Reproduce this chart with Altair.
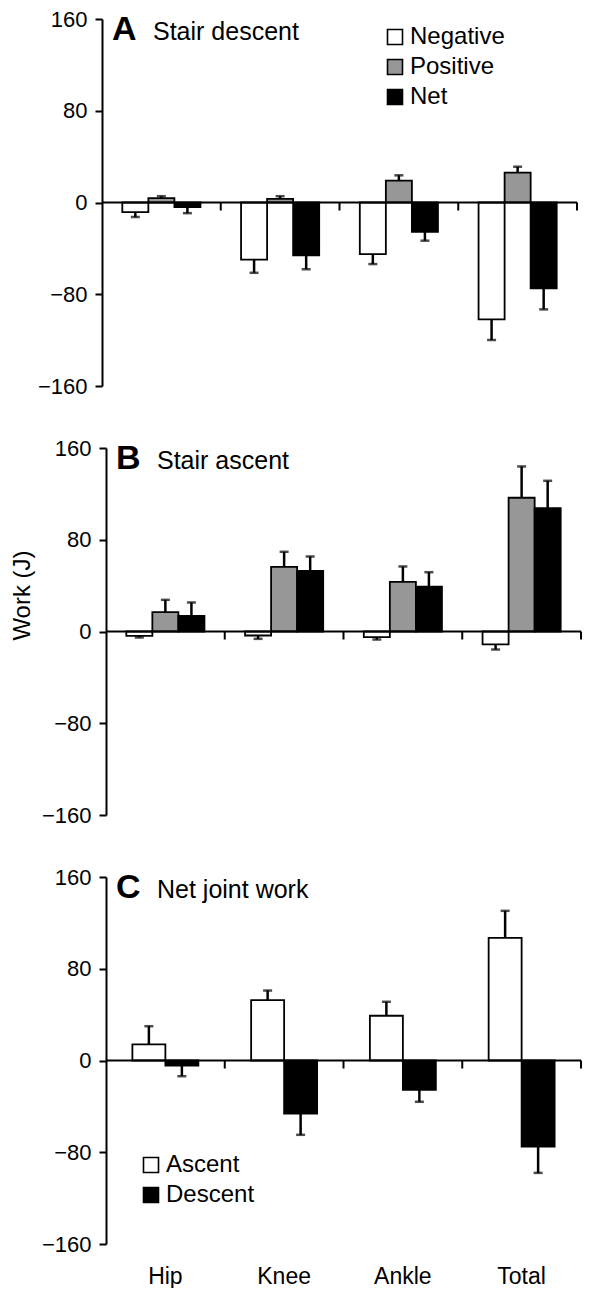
import altair as alt
import pandas as pd

joints = ["Hip", "Knee", "Ankle", "Total"]
work_types = ["Negative", "Positive", "Net"]
conditions = ["Ascent", "Descent"]

# Panel A: stair descent
descent_negative = [-8.4, -49.8, -45.0, -101.9]
descent_negative_err = [4.3, 11.5, 8.7, 18.0]
descent_positive = [3.8, 3.2, 19.1, 26.0]
descent_positive_err = [1.7, 2.3, 4.6, 5.2]
descent_net = [-4.0, -46.0, -25.5, -74.9]
descent_net_err = [5.3, 12.2, 7.8, 18.3]

# Panel B: stair ascent
ascent_negative = [-3.8, -3.5, -4.9, -11.3]
ascent_negative_err = [1.4, 2.9, 2.1, 4.4]
ascent_positive = [16.9, 56.4, 43.3, 116.6]
ascent_positive_err = [10.7, 13.1, 13.4, 27.3]
ascent_net = [13.7, 52.9, 39.0, 107.6]
ascent_net_err = [11.6, 12.5, 12.7, 23.8]

# Panel C: net joint work
net_ascent = [14.0, 52.6, 39.0, 107.0]
net_ascent_err = [15.9, 8.4, 12.2, 23.5]
net_descent = [-4.4, -46.2, -25.6, -75.0]
net_descent_err = [9.3, 18.6, 10.4, 23.0]

y_ticks = [-160, -80, 0, 80, 160]

FONT = "Liberation Sans"
W, H = 475, 367


def make_df(series_names, values, errs):
    rows = []
    for s, vals, es in zip(series_names, values, errs):
        for j, v, e in zip(joints, vals, es):
            tip = v + e if v >= 0 else v - e
            rows.append({"joint": j, "series": s, "value": v, "tip": tip})
    return pd.DataFrame(rows)


def panel(df, series_order, colors, pad_outer, letter, subtitle, legend_pos,
          y_title, x_labels, shift):
    yscale = alt.Scale(domain=[-160, 160], nice=False, zero=False)
    yaxis = alt.Axis(values=y_ticks, title=y_title, grid=False,
                     labelFont=FONT, labelFontSize=22, labelColor="black",
                     labelPadding=8, tickSize=7, tickWidth=2, tickColor="black",
                     domainWidth=2, domainColor="black", offset=shift,
                     titleFont=FONT, titleFontSize=24, titleFontWeight="normal",
                     titleColor="black", titleX=-77, titleY=147,
                     titleBaseline="alphabetic", titleAngle=-90, titleAlign="center")

    def ydef(field):
        return alt.Y(f"{field}:Q", scale=yscale, axis=yaxis)

    xscale = alt.Scale(domain=joints, range=[-shift, W - shift],
                       paddingInner=0, paddingOuter=0)
    if x_labels:
        xaxis = alt.Axis(title=None, ticks=False, domain=False, labelAngle=0,
                         labelFont=FONT, labelFontSize=23, labelColor="black",
                         labelPadding=21)
    else:
        xaxis = None

    def xdef(**kw):
        return alt.X("joint:N", sort=joints, scale=xscale, axis=xaxis, **kw)

    xoff = alt.XOffset("series:N", sort=series_order,
                       scale=alt.Scale(domain=series_order, paddingInner=0,
                                       paddingOuter=pad_outer))

    if legend_pos is not None:
        legend = alt.Legend(title=None, orient="none",
                            legendX=legend_pos[0], legendY=legend_pos[1],
                            symbolType="square", symbolSize=225,
                            symbolStrokeColor="black", symbolStrokeWidth=1.6,
                            labelFont=FONT, labelFontSize=24, labelColor="black",
                            labelOffset=3, rowPadding=6, padding=0)
    else:
        legend = None

    base = alt.Chart(df)
    bars = base.mark_bar(stroke="black", strokeWidth=1.8).encode(
        x=xdef(), xOffset=xoff, y=ydef("value"),
        fill=alt.Fill("series:N", sort=series_order,
                      scale=alt.Scale(domain=series_order, range=colors),
                      legend=legend),
    )
    err = base.mark_rule(color="black", strokeWidth=2.5).encode(
        x=xdef(), xOffset=xoff, y=ydef("value"), y2="tip:Q"
    )
    caps = base.mark_tick(color="black", thickness=2.5, size=9,
                          orient="horizontal").encode(
        x=xdef(), xOffset=xoff, y=ydef("tip")
    )
    zero = alt.Chart(pd.DataFrame({"value": [0]})).mark_rule(
        color="black", strokeWidth=2
    ).encode(y=ydef("value"), x=alt.value(-shift), x2=alt.value(W - shift))
    ticks_df = pd.DataFrame({"joint": joints, "value": [0] * 4, "tip": [-7] * 4})
    bticks = alt.Chart(ticks_df).mark_rule(color="black", strokeWidth=2).encode(
        x=xdef(bandPosition=1), y=ydef("value"), y2="tip:Q"
    )
    letter_t = alt.Chart(pd.DataFrame({"t": [letter]})).mark_text(
        font=FONT, fontSize=34, fontWeight="bold", align="left",
        baseline="alphabetic", color="black"
    ).encode(text="t:N", x=alt.value(10 - shift), y=alt.value(21))
    sub_t = alt.Chart(pd.DataFrame({"t": [subtitle]})).mark_text(
        font=FONT, fontSize=25, align="left", baseline="alphabetic",
        color="black"
    ).encode(text="t:N", x=alt.value(51 - shift), y=alt.value(21))

    return alt.layer(bars, err, caps, zero, bticks, letter_t, sub_t).properties(
        width=W, height=H
    )


df_a = make_df(work_types,
               [descent_negative, descent_positive, descent_net],
               [descent_negative_err, descent_positive_err, descent_net_err])
df_b = make_df(work_types,
               [ascent_negative, ascent_positive, ascent_net],
               [ascent_negative_err, ascent_positive_err, ascent_net_err])
df_c = make_df(conditions,
               [net_ascent, net_descent],
               [net_ascent_err, net_descent_err])

colors3 = ["white", "#979797", "black"]
colors2 = ["white", "black"]

pa = panel(df_a, work_types, colors3, 0.78, "A", "Stair descent", (277, 6),
           None, False, 4)
pb = panel(df_b, work_types, colors3, 0.78, "B", "Stair ascent", None,
           "Work (J)", False, 0)
pc = panel(df_c, conditions, colors2, 0.8, "C", "Net joint work", (33, 276),
           None, True, 0)

chart = alt.vconcat(pa, pb, pc, spacing=62, bounds="flush").resolve_scale(
    fill="independent", xOffset="independent"
).configure_view(stroke=None).properties(
    padding={"left": 1, "top": 0, "right": 5, "bottom": 0}
)

chart.save("out.html", embed_options={"renderer": "svg", "actions": False})
